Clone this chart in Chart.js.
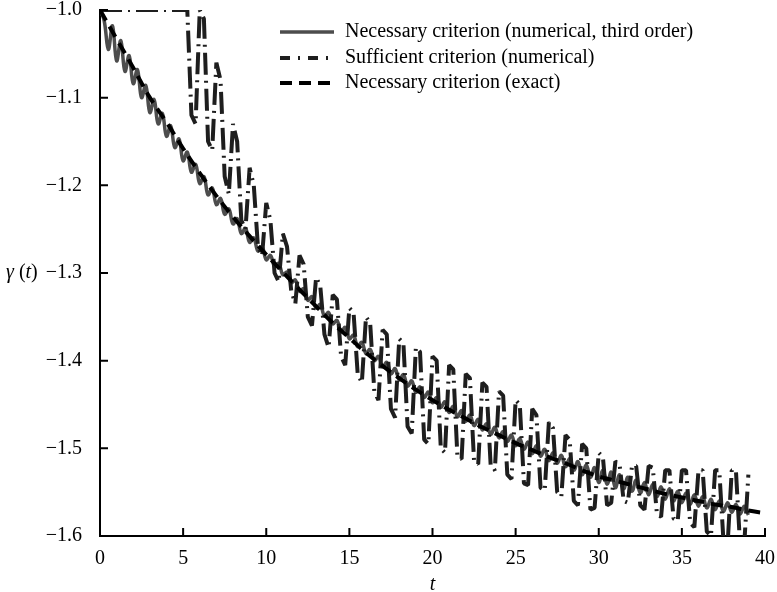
<!DOCTYPE html>
<html lang="en">
<head>
    <meta charset="UTF-8">
    <title>gamma(t)</title>
    <script src="https://cdn.jsdelivr.net/npm/chart.js"></script>
    <style>
        body { margin: 0; background: #fff; }
    </style>
</head>
<body>

<div style="width: 777px; height: 592px;">
    <canvas id="chart" width="777" height="592"></canvas>
</div>

<script>
    // time samples of the numerical runs (step 0.25)
    const tFine = [
        0, 0.25, 0.5, 0.75, 1, 1.25, 1.5, 1.75,
        2, 2.25, 2.5, 2.75, 3, 3.25, 3.5, 3.75,
        4, 4.25, 4.5, 4.75, 5, 5.25, 5.5, 5.75,
        6, 6.25, 6.5, 6.75, 7, 7.25, 7.5, 7.75,
        8, 8.25, 8.5, 8.75, 9, 9.25, 9.5, 9.75,
        10, 10.25, 10.5, 10.75, 11, 11.25, 11.5, 11.75,
        12, 12.25, 12.5, 12.75, 13, 13.25, 13.5, 13.75,
        14, 14.25, 14.5, 14.75, 15, 15.25, 15.5, 15.75,
        16, 16.25, 16.5, 16.75, 17, 17.25, 17.5, 17.75,
        18, 18.25, 18.5, 18.75, 19, 19.25, 19.5, 19.75,
        20, 20.25, 20.5, 20.75, 21, 21.25, 21.5, 21.75,
        22, 22.25, 22.5, 22.75, 23, 23.25, 23.5, 23.75,
        24, 24.25, 24.5, 24.75, 25, 25.25, 25.5, 25.75,
        26, 26.25, 26.5, 26.75, 27, 27.25, 27.5, 27.75,
        28, 28.25, 28.5, 28.75, 29, 29.25, 29.5, 29.75,
        30, 30.25, 30.5, 30.75, 31, 31.25, 31.5, 31.75,
        32, 32.25, 32.5, 32.75, 33, 33.25, 33.5, 33.75,
        34, 34.25, 34.5, 34.75, 35, 35.25, 35.5, 35.75,
        36, 36.25, 36.5, 36.75, 37, 37.25, 37.5, 37.75,
        38, 38.25, 38.5, 38.75, 39
    ];

    // Necessary criterion (numerical, third order)
    const necessaryNumerical = [
        -1.000, -1.012, -1.045, -1.018, -1.058, -1.035, -1.070, -1.052,
        -1.084, -1.068, -1.100, -1.086, -1.117, -1.102, -1.130, -1.118,
        -1.144, -1.132, -1.157, -1.147, -1.172, -1.162, -1.185, -1.176,
        -1.198, -1.190, -1.211, -1.203, -1.222, -1.215, -1.233, -1.227,
        -1.244, -1.238, -1.255, -1.249, -1.265, -1.260, -1.275, -1.270,
        -1.285, -1.280, -1.292, -1.289, -1.302, -1.299, -1.311, -1.308,
        -1.321, -1.318, -1.331, -1.327, -1.340, -1.336, -1.349, -1.345,
        -1.358, -1.354, -1.367, -1.362, -1.375, -1.371, -1.384, -1.379,
        -1.392, -1.387, -1.400, -1.395, -1.407, -1.402, -1.415, -1.409,
        -1.422, -1.416, -1.429, -1.423, -1.436, -1.430, -1.442, -1.436,
        -1.448, -1.442, -1.453, -1.447, -1.459, -1.452, -1.464, -1.457,
        -1.469, -1.462, -1.474, -1.467, -1.479, -1.472, -1.484, -1.476,
        -1.488, -1.481, -1.492, -1.485, -1.497, -1.489, -1.501, -1.493,
        -1.506, -1.497, -1.509, -1.501, -1.514, -1.505, -1.517, -1.508,
        -1.521, -1.512, -1.525, -1.515, -1.530, -1.519, -1.533, -1.522,
        -1.539, -1.525, -1.541, -1.527, -1.545, -1.530, -1.546, -1.533,
        -1.549, -1.536, -1.551, -1.539, -1.553, -1.541, -1.555, -1.544,
        -1.558, -1.546, -1.560, -1.549, -1.562, -1.551, -1.564, -1.553,
        -1.566, -1.555, -1.568, -1.558, -1.570, -1.560, -1.572, -1.562,
        -1.573, -1.564, -1.575, -1.566, -1.576
    ];

    // Sufficient criterion (numerical)
    const sufficientNumerical = [
        -1, -1, -1, -1, -1, -1, -1, -1,
        -1, -1, -1, -1, -1, -1, -1, -1,
        -1, -1, -1, -1, -1, -1.00, -1.12, -1.13,
        -1.00, -1.01, -1.15, -1.16, -1.06, -1.08, -1.19, -1.21,
        -1.13, -1.15, -1.24, -1.25, -1.18, -1.20, -1.27, -1.28,
        -1.22, -1.24, -1.30, -1.31, -1.255, -1.27, -1.32, -1.335,
        -1.28, -1.29, -1.35, -1.36, -1.305, -1.315, -1.37, -1.385,
        -1.325, -1.33, -1.395, -1.405, -1.34, -1.345, -1.415, -1.425,
        -1.35, -1.357, -1.435, -1.445, -1.365, -1.37, -1.455, -1.465,
        -1.375, -1.38, -1.475, -1.483, -1.385, -1.39, -1.49, -1.495,
        -1.395, -1.40, -1.50, -1.505, -1.405, -1.41, -1.51, -1.512,
        -1.415, -1.42, -1.515, -1.518, -1.425, -1.43, -1.52, -1.525,
        -1.435, -1.44, -1.53, -1.535, -1.445, -1.45, -1.54, -1.542,
        -1.455, -1.462, -1.545, -1.548, -1.47, -1.477, -1.55, -1.555,
        -1.485, -1.49, -1.56, -1.565, -1.495, -1.50, -1.57, -1.568,
        -1.505, -1.51, -1.565, -1.562, -1.515, -1.518, -1.56, -1.562,
        -1.52, -1.52, -1.565, -1.57, -1.52, -1.522, -1.575, -1.578,
        -1.525, -1.525, -1.58, -1.583, -1.525, -1.525, -1.585, -1.59,
        -1.525, -1.525, -1.595, -1.60, -1.525, -1.525, -1.605, -1.61,
        -1.525, -1.525, -1.61, -1.61, -1.53
    ];

    // Necessary criterion (exact), step 1
    const tCoarse = [
        0, 1, 2, 3, 4, 5, 6, 7, 8, 9,
        10, 11, 12, 13, 14, 15, 16, 17, 18, 19,
        20, 21, 22, 23, 24, 25, 26, 27, 28, 29,
        30, 31, 32, 33, 34, 35, 36, 37, 38, 39, 40
    ];
    const necessaryExact = [
        -1.000, -1.033, -1.066, -1.100, -1.128, -1.158, -1.186, -1.212, -1.236, -1.258,
        -1.279, -1.299, -1.319, -1.338, -1.357, -1.374, -1.391, -1.406, -1.420, -1.433,
        -1.445, -1.456, -1.466, -1.476, -1.485, -1.494, -1.502, -1.510, -1.517, -1.525,
        -1.532, -1.537, -1.542, -1.547, -1.552, -1.556, -1.560, -1.564, -1.567, -1.571, -1.574
    ];

    const xTicks = [0, 5, 10, 15, 20, 25, 30, 35, 40];
    const yTicks = [-1.6, -1.5, -1.4, -1.3, -1.2, -1.1, -1.0];

    const serif = 'Liberation Serif';

    // tick marks point into the plot, like the original figure
    const inwardTicks = {
        id: 'inwardTicks',
        afterDraw(chart) {
            const {ctx, chartArea: a, scales: {x, y}} = chart;
            ctx.save();
            ctx.strokeStyle = '#000';
            ctx.lineWidth = 2;
            ctx.beginPath();
            xTicks.forEach(v => {
                const px = x.getPixelForValue(v);
                ctx.moveTo(px, a.bottom);
                ctx.lineTo(px, a.bottom - 8);
            });
            yTicks.forEach(v => {
                const py = y.getPixelForValue(v);
                ctx.moveTo(a.left, py);
                ctx.lineTo(a.left + 8, py);
            });
            ctx.stroke();

            // y axis label: gamma (t), horizontal
            ctx.fillStyle = '#000';
            ctx.textBaseline = 'middle';
            ctx.textAlign = 'left';
            const ty = y.getPixelForValue(-1.3);
            let tx = 6;
            const parts = [['γ', 'italic'], [' (', 'normal'], ['t', 'italic'], [')', 'normal']];
            parts.forEach(([s, style]) => {
                ctx.font = style + ' 20px "' + serif + '"';
                ctx.fillText(s, tx, ty);
                tx += ctx.measureText(s).width;
            });
            ctx.restore();
        }
    };

    // legend inside the plot, top right
    const lineLegend = {
        id: 'lineLegend',
        afterDraw(chart) {
            const {ctx} = chart;
            const rows = [32, 58, 83];
            ctx.save();
            chart.data.datasets.forEach((ds, i) => {
                const yy = rows[i];
                ctx.strokeStyle = ds.borderColor;
                ctx.lineWidth = ds.borderWidth;
                ctx.setLineDash(ds.legendDash || []);
                ctx.beginPath();
                ctx.moveTo(280, yy);
                ctx.lineTo(334, yy);
                ctx.stroke();
                ctx.setLineDash([]);
                ctx.fillStyle = '#000';
                ctx.font = '20px "' + serif + '"';
                ctx.textBaseline = 'middle';
                ctx.fillText(ds.label, 345, yy);
            });
            ctx.restore();
        }
    };

    const toPoints = (xs, ys) => xs.map((t, i) => ({x: t, y: ys[i]}));

    const ctx = document.getElementById('chart').getContext('2d');
    new Chart(ctx, {
        type: 'line',
        data: {
            datasets: [{
                label: 'Necessary criterion (numerical, third order)',
                data: toPoints(tFine, necessaryNumerical),
                borderColor: '#4d4d4d',
                borderWidth: 3.5,
                tension: 0.4,
                pointRadius: 0,
                order: 2
            }, {
                label: 'Sufficient criterion (numerical)',
                data: toPoints(tFine, sufficientNumerical),
                borderColor: '#1e1e1e',
                borderWidth: 4,
                borderDash: [22, 6, 2, 6],
                legendDash: [10, 8, 2, 8],
                borderJoinStyle: 'bevel',
                tension: 0,
                pointRadius: 0,
                order: 1
            }, {
                label: 'Necessary criterion (exact)',
                data: toPoints(tCoarse, necessaryExact),
                borderColor: '#000000',
                borderWidth: 4,
                borderDash: [12, 7],
                legendDash: [12, 7],
                tension: 0.4,
                pointRadius: 0,
                order: 0
            }]
        },
        options: {
            responsive: false,
            animation: false,
            layout: {
                padding: {top: 10, right: 12, left: 0, bottom: 0}
            },
            plugins: {
                legend: {display: false},
                tooltip: {enabled: false}
            },
            scales: {
                x: {
                    type: 'linear',
                    min: 0,
                    max: 40,
                    afterBuildTicks: s => { s.ticks = xTicks.map(v => ({value: v})); },
                    afterFit: s => { s.height = 56; s.paddingLeft = 0; s.paddingRight = 0; },
                    grid: {display: false},
                    border: {display: true, color: '#000', width: 2},
                    ticks: {
                        color: '#000',
                        padding: 3,
                        maxRotation: 0,
                        font: {family: serif, size: 20}
                    },
                    title: {
                        display: true,
                        text: 't',
                        color: '#000',
                        padding: {top: 0, bottom: -3},
                        font: {family: serif, size: 20, style: 'italic', lineHeight: 1}
                    }
                },
                y: {
                    type: 'linear',
                    min: -1.6,
                    max: -1.0,
                    afterBuildTicks: s => { s.ticks = yTicks.map(v => ({value: v})); },
                    afterFit: s => { s.width = 100; s.paddingTop = 0; s.paddingBottom = 0; },
                    grid: {display: false},
                    border: {display: true, color: '#000', width: 2},
                    ticks: {
                        color: '#000',
                        padding: 10,
                        font: {family: serif, size: 20},
                        callback: v => v.toFixed(1).replace('-', '\u2212')
                    }
                }
            }
        },
        plugins: [inwardTicks, lineLegend]
    });
</script>
</body>
</html>
